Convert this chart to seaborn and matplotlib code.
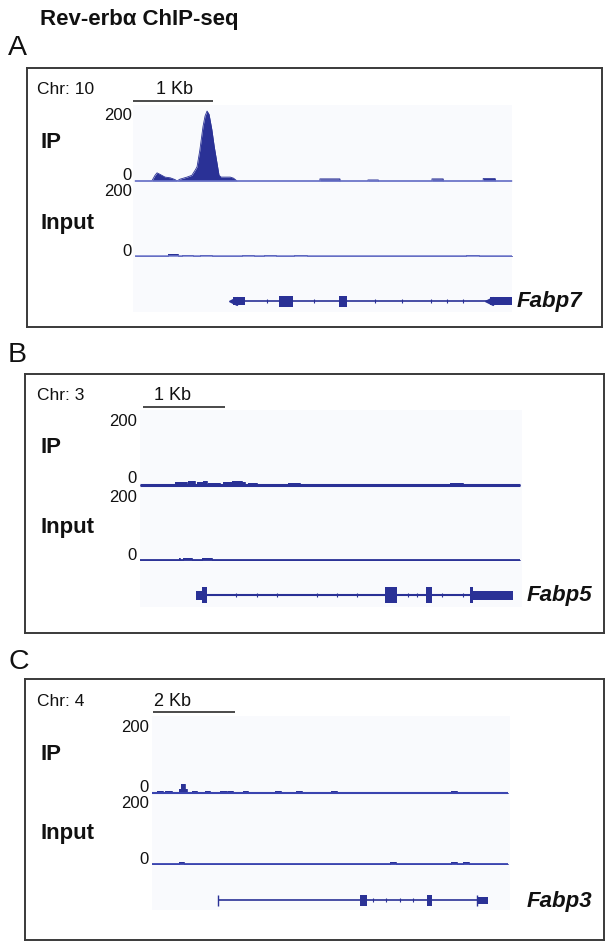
import matplotlib
matplotlib.use("Agg")
import matplotlib.pyplot as plt
import seaborn as sns
import pandas as pd

sns.set_style("white")
plt.rcParams['font.family'] = ['Liberation Sans', 'DejaVu Sans']
plt.rcParams['text.color'] = '#111111'

# ---------------- DATA (positions in kb from left edge of track, coverage in reads) ----------------
# Panel A : Fabp7, Chr 10
A_extent = 4.71
A_ip_prof_kb = [0.19, 0.21, 0.25, 0.275, 0.31, 0.375, 0.44, 0.50, 0.525, 0.56, 0.65, 0.71, 0.75,
                0.775, 0.81, 0.85, 0.875, 0.90, 0.925, 0.96, 0.99, 1.025, 1.05, 1.075, 1.19, 1.23, 1.275]
A_ip_prof_val = [0, 0, 16, 23, 19, 11, 9, 4, 0, 5, 11, 16, 30,
                 40, 87, 154, 183, 197, 188, 145, 97, 50, 16, 11, 11, 8, 0]
A_ip_start = [2.31, 2.91, 3.71, 4.35]
A_ip_end = [2.56, 3.04, 3.85, 4.50]
A_ip_val = [6, 3, 6, 7]
A_in_start = [0.41, 0.59, 0.81, 1.34, 1.61, 1.99, 4.14]
A_in_end = [0.54, 0.725, 0.96, 1.49, 1.76, 2.15, 4.30]
A_in_val = [6, 4, 4, 4, 4, 4, 4]
A_tx = [1.20, 4.71]
A_utr_start = [1.22, 4.44]
A_utr_end = [1.375, 4.71]
A_exon_start = [1.80, 2.55]
A_exon_end = [1.975, 2.65]
A_arrow_kb = [1.22, 4.42]
A_intron_ticks = [1.65, 2.24, 3.00, 3.34, 3.70, 3.90, 4.10]
A_scale = [-0.025, 1.0]

# Panel B : Fabp5, Chr 3
B_extent = 4.63
B_ip_start = [0.43, 0.585, 0.695, 0.77, 0.83, 1.01, 1.12, 1.24, 1.32, 1.80, 3.78]
B_ip_end = [0.57, 0.67, 0.77, 0.82, 0.98, 1.12, 1.24, 1.28, 1.43, 1.95, 3.93]
B_ip_val = [8, 11, 9, 11, 6, 8, 12, 8, 6, 7, 7]
B_in_start = [0.47, 0.52, 0.76]
B_in_end = [0.49, 0.63, 0.88]
B_in_val = [7, 5, 5]
B_tx = [0.68, 4.55]
B_utr_start = [0.68, 4.06]
B_utr_end = [0.76, 4.55]
B_exon_start = [0.76, 2.99, 3.48, 4.02]
B_exon_end = [0.82, 3.13, 3.56, 4.06]
B_intron_ticks = [1.17, 1.43, 1.67, 2.16, 2.40, 2.65, 3.26, 3.38, 3.68, 3.93]
B_scale = [0.04, 1.0]

# Panel C : Fabp3, Chr 4
C_extent = 8.68
C_ip_start = [0.12, 0.32, 0.66, 0.71, 0.81, 0.98, 1.29, 1.66, 1.85, 2.22, 3.00, 3.51, 4.37, 7.29]
C_ip_end = [0.27, 0.49, 0.71, 0.81, 0.85, 1.10, 1.41, 1.83, 1.98, 2.34, 3.15, 3.66, 4.51, 7.44]
C_ip_val = [5, 5, 10, 25, 12, 5, 5, 5, 5, 5, 5, 5, 5, 5]
C_in_start = [0.66, 5.80, 7.29, 7.59]
C_in_end = [0.78, 5.95, 7.44, 7.73]
C_in_val = [5, 5, 5, 5]
C_tx = [1.61, 8.20]
C_utr_start = [7.95]
C_utr_end = [8.20]
C_exon_start = [5.07, 6.71]
C_exon_end = [5.24, 6.83]
C_end_ticks = [1.61, 7.93]
C_intron_ticks = [5.39, 5.71, 6.05, 6.37]
C_scale = [0.02, 2.0]

track_max = 200
title = "Rev-erbα ChIP-seq"

# ---------------- STYLE / LAYOUT ----------------
W, H = 612, 950
DARK = "#2a3196"
fig = plt.figure(figsize=(W / 100, H / 100), dpi=100)


def ax_at(x0, y0, x1, y1, **kw):
    return fig.add_axes([x0 / W, 1 - y1 / H, (x1 - x0) / W, (y1 - y0) / H], **kw)


def txt(x, y, s, **kw):
    kw.setdefault("va", "center")
    fig.text(x / W, 1 - y / H, s, **kw)


def profile(starts, ends, vals, extent, px=None, py=None):
    pts = []
    if px is not None:
        pts += list(zip(px, py))
    for s, e, v in zip(starts, ends, vals):
        pts += [(s, 0), (s, v), (e, v), (e, 0)]
    pts.sort(key=lambda p: p[0])
    xs = [0] + [p[0] for p in pts] + [extent]
    ys = [0] + [p[1] for p in pts] + [0]
    return pd.DataFrame({"pos": xs, "cov": ys})


def draw_track(ax, df, extent, base_color, base_lw):
    ax.fill_between(df["pos"], 0, df["cov"], color=DARK, lw=0)
    sns.lineplot(data=df, x="pos", y="cov", ax=ax, estimator=None, sort=False,
                 color=DARK, lw=0.6)
    ax.hlines(0, 0, extent, color=base_color, lw=base_lw)
    for ln in ax.lines:
        ln.set_clip_on(False)
    for c in ax.collections:
        c.set_clip_on(False)
    ax.set_xlim(0, extent)
    ax.set_ylim(0, track_max)
    ax.axis("off")


def draw_gene(ax, extent, tx, utr_s, utr_e, ex_s, ex_e, ticks, utr_h, ex_h, lw):
    ax.hlines(0, tx[0], tx[1], color=DARK, lw=lw)
    ax.broken_barh([(s, e - s) for s, e in zip(utr_s, utr_e)], (-utr_h / 2, utr_h), color=DARK, lw=0)
    ax.broken_barh([(s, e - s) for s, e in zip(ex_s, ex_e)], (-ex_h / 2, ex_h), color=DARK, lw=0)
    ax.vlines(ticks, -1.6, 1.6, color=DARK, lw=0.8)
    ax.set_xlim(0, extent)
    ax.set_ylim(-15, 15)
    ax.axis("off")


def panel(letter, ly, box, dx, ip_y, in_y, gene_y, chr_lab, kb_lab, kb_x, scale, extent,
          ip_df, in_df, base_color, ip_lw, in_lw, gene_args, gene_name, gname_x, bg):
    # panel letter and frame
    txt(8, ly, letter, fontsize=20.5, ha="left")
    bx = ax_at(*box)
    bx.set_xticks([]); bx.set_yticks([])
    bx.patch.set_alpha(0)
    for sp in bx.spines.values():
        sp.set_linewidth(1.4); sp.set_color("#3a3a3a")
    # faint background
    bga = ax_at(*bg, zorder=0)
    bga.set_facecolor("#f9fafd")
    bga.set_xticks([]); bga.set_yticks([])
    for sp in bga.spines.values():
        sp.set_visible(False)
    # ruler
    top = box[1]
    txt(37, top + 22, chr_lab, fontsize=12.5, ha="left")
    txt(kb_x, top + 22, kb_lab, fontsize=13, ha="center")
    rax = ax_at(dx[0], top + 28, dx[1], top + 38)
    rax.hlines(0, scale[0], scale[0] + scale[1], color="#4a4a4a", lw=1.4, clip_on=False)
    rax.set_xlim(0, extent); rax.set_ylim(-1, 1); rax.axis("off")
    # IP track
    iax = ax_at(dx[0], ip_y[0], dx[1], ip_y[1])
    draw_track(iax, ip_df, extent, base_color, ip_lw)
    txt(dx[0] - 3, ip_y[0] + 6, "200", fontsize=12, ha="right")
    txt(dx[0] - 3, ip_y[1] - 6, "0", fontsize=12, ha="right")
    txt(40, (ip_y[0] + ip_y[1]) / 2 - 3, "IP", fontsize=16, fontweight="bold", ha="left")
    # Input track
    nax = ax_at(dx[0], in_y[0], dx[1], in_y[1])
    draw_track(nax, in_df, extent, base_color, in_lw)
    txt(dx[0] - 3, in_y[0] + 6, "200", fontsize=12, ha="right")
    txt(dx[0] - 3, in_y[1] - 4, "0", fontsize=12, ha="right")
    txt(40, (in_y[0] + in_y[1]) / 2 + 2, "Input", fontsize=16, fontweight="bold", ha="left")
    # gene
    gax = ax_at(dx[0], gene_y - 15, dx[1], gene_y + 15)
    draw_gene(gax, extent, *gene_args)
    txt(gname_x, gene_y + 1, gene_name, fontsize=16, fontweight="bold", style="italic", ha="left")
    return gax


txt(40, 20, title, fontsize=16, fontweight="bold", ha="left")

# Panel A
gA = panel("A", 48, (27, 68, 602, 327), (135, 512), (110, 181), (186, 256), 301,
           "Chr: 10", "1 Kb", 174, A_scale, A_extent,
           profile(A_ip_start, A_ip_end, A_ip_val, A_extent, A_ip_prof_kb, A_ip_prof_val),
           profile(A_in_start, A_in_end, A_in_val, A_extent),
           "#6f78cc", 1.1, 1.1,
           (A_tx, A_utr_start, A_utr_end, A_exon_start, A_exon_end, A_intron_ticks, 8, 11, 1.2),
           "Fabp7", 517, (133, 105, 512, 312))
gA.plot(A_arrow_kb, [0, 0], ls="none", marker="<", ms=6, color=DARK)

# Panel B
panel("B", 355, (25, 374, 604, 633), (140, 520), (416, 485), (492, 560), 595,
      "Chr: 3", "1 Kb", 172, B_scale, B_extent,
      profile(B_ip_start, B_ip_end, B_ip_val, B_extent),
      profile(B_in_start, B_in_end, B_in_val, B_extent),
      DARK, 2.2, 1.3,
      (B_tx, B_utr_start, B_utr_end, B_exon_start, B_exon_end, B_intron_ticks, 9, 16, 1.5),
      "Fabp5", 527, (140, 410, 522, 607))

# Panel C
gC = panel("C", 662, (25, 679, 604, 940), (152, 508), (721, 793), (798, 864), 900,
           "Chr: 4", "2 Kb", 172, C_scale, C_extent,
           profile(C_ip_start, C_ip_end, C_ip_val, C_extent),
           profile(C_in_start, C_in_end, C_in_val, C_extent),
           "#3a44b0", 1.5, 1.3,
           (C_tx, C_utr_start, C_utr_end, C_exon_start, C_exon_end, C_intron_ticks, 7, 11, 1.2),
           "Fabp3", 527, (152, 716, 510, 910))
gC.vlines(C_end_ticks, -5.5, 5.5, color=DARK, lw=1.0)

fig.savefig("out.png", dpi=100)
